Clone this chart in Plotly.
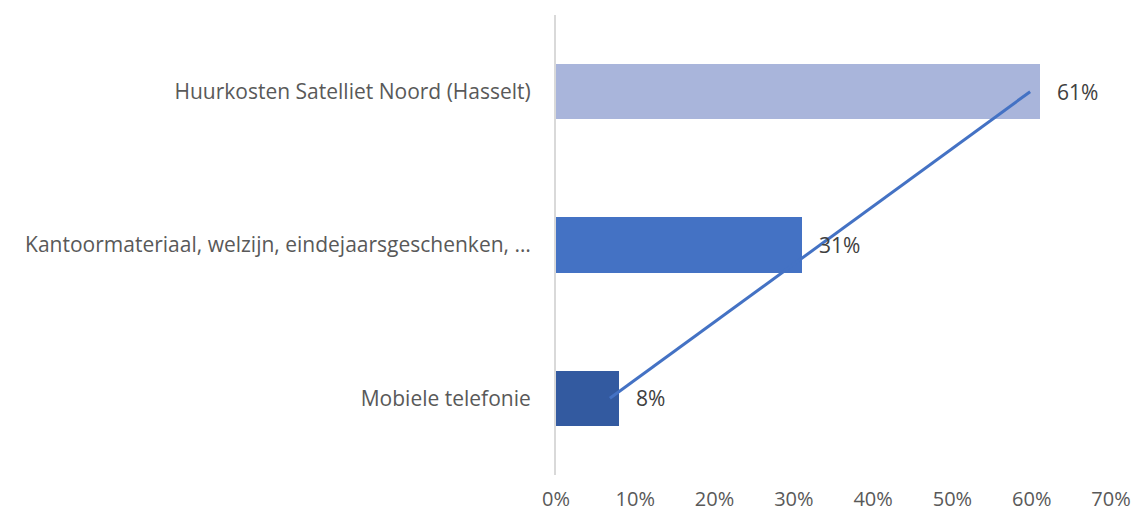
import plotly.graph_objects as go

categories = ["Mobiele telefonie",
              "Kantoormateriaal, welzijn, eindejaarsgeschenken, …",
              "Huurkosten Satelliet Noord (Hasselt)"]
values = [0.08, 0.31, 0.61]
value_labels = ["8%", "31%", "61%"]
bar_colors = ["#335AA0", "#4472C4", "#A9B5DB"]
trend_categories = ["Mobiele telefonie", "Huurkosten Satelliet Noord (Hasselt)"]
trend_values = [0.068, 0.598]
x_ticks = [0, 0.1, 0.2, 0.3, 0.4, 0.5, 0.6, 0.7]
x_tick_labels = ["0%", "10%", "20%", "30%", "40%", "50%", "60%", "70%"]

FONT = "'Open Sans', Calibri, Carlito, sans-serif"
FS = 21

fig = go.Figure()
fig.add_trace(go.Bar(
    y=categories, x=values, orientation="h",
    marker=dict(color=bar_colors, line=dict(width=0)),
    width=0.36, hoverinfo="skip",
))
fig.add_trace(go.Scatter(
    y=trend_categories, x=trend_values, mode="lines",
    line=dict(color="#4472C4", width=3), hoverinfo="skip",
))
for c, v, t in zip(categories, values, value_labels):
    fig.add_annotation(x=v, y=c, text=t, showarrow=False, xanchor="left",
                       xshift=15, font=dict(family=FONT, size=FS, color="#404040"))

fig.update_layout(
    width=1132, height=515,
    margin=dict(l=556, r=21, t=15, b=40, autoexpand=False),
    paper_bgcolor="white", plot_bgcolor="white",
    showlegend=False,
    font=dict(family=FONT, size=FS, color="#595959"),
    bargap=0,
)
fig.update_xaxes(range=[0, 0.7], tickvals=x_ticks, ticktext=x_tick_labels,
                 showgrid=False, zeroline=False, showline=False, automargin=False,
                 ticklabelstandoff=10, tickfont=dict(size=20, color="#595959"))
fig.update_yaxes(type="category", categoryorder="array", categoryarray=categories,
                 range=[-0.5, 2.5], showgrid=False, zeroline=False, automargin=False,
                 showline=True, linecolor="#D9D9D9", linewidth=2,
                 ticklabelstandoff=19, tickfont=dict(size=FS, color="#595959"))

fig.write_html("out.html", config={"displayModeBar": False},
               post_script="document.body.style.margin='0';document.body.style.overflow='hidden';")
